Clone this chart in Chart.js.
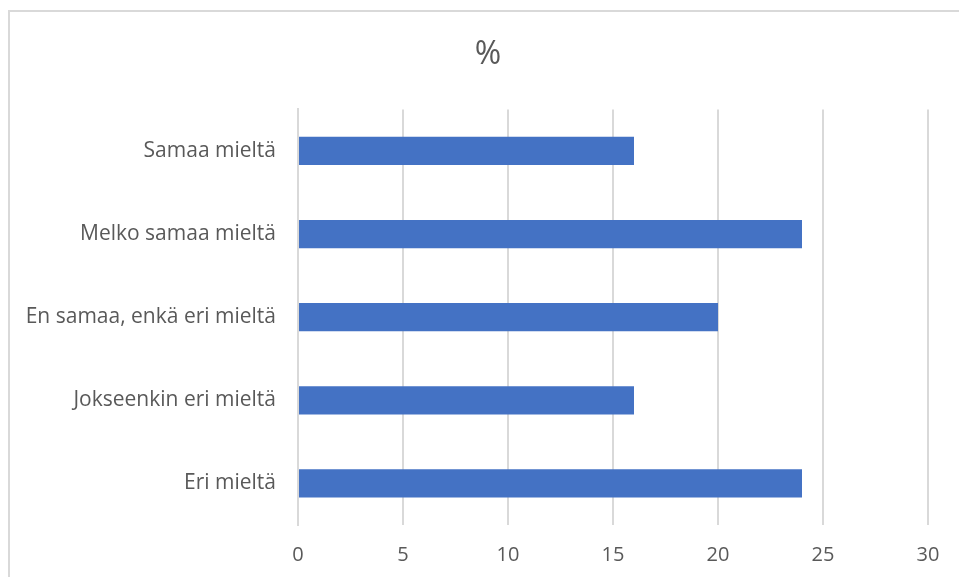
<!DOCTYPE html>
<html>
<head>
<meta charset="utf-8">
<script src="https://cdn.jsdelivr.net/npm/chart.js@4/dist/chart.umd.min.js"></script>
<style>
  html, body { margin: 0; padding: 0; background: #fff; overflow: hidden; }
  #frame {
    position: absolute; left: 8px; top: 10px;
    width: 1200px; height: 900px;
    border-left: 2px solid #d9d9d9; border-top: 2px solid #d9d9d9;
  }
  #chart { position: absolute; left: 0; top: 0; }
</style>
</head>
<body>
<div id="frame"></div>
<!-- canvas runs a little past the window so the title sits at the frame's centre -->
<canvas id="chart" width="976" height="577"></canvas>
<script>
// answer categories, top to bottom
const categories = [
    "Samaa mieltä",
    "Melko samaa mieltä",
    "En samaa, enkä eri mieltä",
    "Jokseenkin eri mieltä",
    "Eri mieltä"
];
// share of answers, %
const percentValues = [16, 24, 20, 16, 24];
const xTicks = [0, 5, 10, 15, 20, 25, 30];

const gridColor = "#d9d9d9";
const textColor = "#595959";

new Chart(document.getElementById("chart"), {
    type: "bar",
    data: {
        labels: categories,
        datasets: [{
            label: "%",
            data: percentValues,
            backgroundColor: "#4472C4",
            barPercentage: 0.34,
            categoryPercentage: 1
        }]
    },
    options: {
        indexAxis: "y",
        responsive: false,
        animation: false,
        layout: { padding: 0 },
        plugins: {
            legend: { display: false },
            tooltip: { enabled: false },
            title: {
                display: true,
                text: "%",
                color: textColor,
                font: { family: "Open Sans", size: 32, weight: "normal" },
                padding: { top: 36, bottom: 35 }
            }
        },
        scales: {
            x: {
                min: 0,
                max: 30,
                afterBuildTicks: axis => {
                    axis.ticks = xTicks.map(v => ({ value: v }));
                },
                afterFit: axis => { axis.height = 52; },
                grid: { color: gridColor, lineWidth: 2, drawTicks: false },
                border: { display: false },
                ticks: {
                    color: textColor,
                    padding: 18,
                    font: { family: "Open Sans", size: 20 }
                }
            },
            y: {
                afterFit: axis => { axis.width = 298; },
                grid: { display: false, drawTicks: false },
                border: { display: true, color: gridColor, width: 2 },
                ticks: {
                    color: textColor,
                    padding: 22,
                    font: { family: "Open Sans", size: 21 }
                }
            },
            // empty spacer on the right edge
            yRight: {
                type: "category",
                position: "right",
                afterFit: axis => { axis.width = 48; },
                grid: { display: false, drawTicks: false },
                border: { display: false },
                ticks: { display: false }
            }
        }
    }
});
</script>
</body>
</html>
